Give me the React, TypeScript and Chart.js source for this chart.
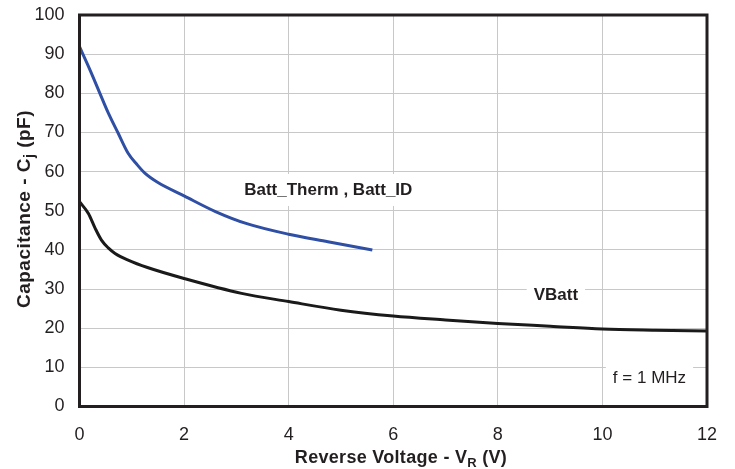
import React, { useEffect, useRef } from "react";
import { Chart, registerables } from "chart.js";

Chart.register(...registerables);

const xTicks = [0, 2, 4, 6, 8, 10, 12];
const yTicks = [0, 10, 20, 30, 40, 50, 60, 70, 80, 90, 100];

const battThermV = [0, 0.2, 0.39, 0.55, 0.74, 0.93, 1.1, 1.25, 1.5, 2.0, 2.6, 3.2, 4.0, 4.75, 5.6];
const battThermC = [91.9, 86, 80, 75, 69.8, 64.7, 61.8, 59.6, 57.2, 53.8, 49.8, 46.7, 44.0, 42.1, 40.0];

const vBattV = [0, 0.17, 0.3, 0.42, 0.55, 0.68, 0.93, 1.3, 2.0, 3.1, 4.0, 5.0, 6.0, 7.0, 8.0, 9.0, 10.0, 11.0, 12.0];
const vBattC = [52.3, 49.3, 45.5, 42.5, 40.5, 39.1, 37.4, 35.5, 32.7, 28.9, 26.8, 24.6, 23.1, 22.1, 21.2, 20.5, 19.8, 19.5, 19.3];

const FONT = "'Liberation Sans', Arial, Helvetica, sans-serif";
const TEXT = "#231f20";

type Part = { t: string; sub?: boolean };

function drawParts(ctx: CanvasRenderingContext2D, parts: Part[], cx: number, cy: number, size: number, spacing: number) {
  const main = `bold ${size}px ${FONT}`;
  const sub = `bold ${Math.round(size * 0.72)}px ${FONT}`;
  (ctx as any).letterSpacing = `${spacing}px`;
  let total = 0;
  for (const p of parts) {
    ctx.font = p.sub ? sub : main;
    total += ctx.measureText(p.t).width;
  }
  let x = cx - total / 2;
  ctx.textBaseline = "middle";
  ctx.textAlign = "left";
  for (const p of parts) {
    ctx.font = p.sub ? sub : main;
    ctx.fillText(p.t, x, p.sub ? cy + size * 0.28 : cy);
    x += ctx.measureText(p.t).width;
  }
  (ctx as any).letterSpacing = "0px";
}

const overlay = {
  id: "overlay",
  beforeDatasetsDraw(chart: any) {
    const ctx = chart.ctx as CanvasRenderingContext2D;
    const xs = chart.scales.x;
    const ys = chart.scales.y;
    ctx.save();
    const labels = [
      { text: "Batt_Therm , Batt_ID", x: 3.15, y: 55.3, bold: true, align: "left" },
      { text: "VBatt", x: 9.11, y: 28.5, bold: true, align: "center" },
      { text: "f = 1 MHz", x: 10.9, y: 7.3, bold: false, align: "center" },
    ];
    for (const l of labels) {
      ctx.font = `${l.bold ? "bold " : ""}17px ${FONT}`;
      const w = ctx.measureText(l.text).width;
      const px = xs.getPixelForValue(l.x);
      const py = ys.getPixelForValue(l.y);
      const left = l.align === "left" ? px : px - w / 2;
      ctx.fillStyle = "#ffffff";
      ctx.fillRect(left - 7, py - 16, w + 14, 32);
      ctx.fillStyle = TEXT;
      ctx.textAlign = "left";
      ctx.textBaseline = "middle";
      ctx.fillText(l.text, left, py);
    }
    ctx.restore();
  },
  afterDatasetsDraw(chart: any) {
    const ctx = chart.ctx as CanvasRenderingContext2D;
    const a = chart.chartArea;
    ctx.save();
    ctx.strokeStyle = TEXT;
    ctx.lineWidth = 3;
    ctx.strokeRect(a.left, a.top, a.right - a.left, a.bottom - a.top);
    ctx.fillStyle = TEXT;
    drawParts(ctx, [{ t: "Reverse Voltage - V" }, { t: "R", sub: true }, { t: " (V)" }], 401, 458, 18, 0.3);
    ctx.translate(25, 209);
    ctx.rotate(-Math.PI / 2);
    drawParts(ctx, [{ t: "Capacitance - C" }, { t: "j", sub: true }, { t: " (pF)" }], 0, 0, 19, 0.5);
    ctx.restore();
  },
};

export default function App() {
  const ref = useRef<HTMLCanvasElement>(null);
  useEffect(() => {
    if (!ref.current) return;
    const chart = new Chart(ref.current, {
      type: "line",
      data: {
        datasets: [
          {
            label: "Batt_Therm , Batt_ID",
            data: battThermV.map((v, i) => ({ x: v, y: battThermC[i] })),
            borderColor: "#2f4fa5",
            borderWidth: 3,
            pointRadius: 0,
            cubicInterpolationMode: "monotone",
            fill: false,
          },
          {
            label: "VBatt",
            data: vBattV.map((v, i) => ({ x: v, y: vBattC[i] })),
            borderColor: "#1a1a1a",
            borderWidth: 3,
            pointRadius: 0,
            cubicInterpolationMode: "monotone",
            fill: false,
          },
        ],
      },
      options: {
        animation: false,
        responsive: true,
        maintainAspectRatio: false,
        layout: { padding: { top: 15, right: 28, left: 0, bottom: 0 } },
        plugins: { legend: { display: false }, tooltip: { enabled: false } },
        scales: {
          x: {
            type: "linear",
            min: 0,
            max: 12,
            afterFit: (s: any) => { s.height = 62.5; s.paddingLeft = 0; s.paddingRight = 0; },
            afterBuildTicks: (s: any) => { s.ticks = xTicks.map((v) => ({ value: v })); },
            grid: { color: "#c8c8c8", lineWidth: 1, drawTicks: false },
            border: { display: false },
            ticks: { color: TEXT, font: { family: FONT, size: 18 }, padding: 18, maxRotation: 0 },
          },
          y: {
            type: "linear",
            min: 0,
            max: 100,
            afterFit: (s: any) => { s.width = 79.5; s.paddingTop = 0; s.paddingBottom = 0; },
            afterBuildTicks: (s: any) => { s.ticks = yTicks.map((v) => ({ value: v })); },
            grid: { color: "#c8c8c8", lineWidth: 1, drawTicks: false },
            border: { display: false },
            ticks: { color: TEXT, font: { family: FONT, size: 18 }, padding: 15 },
          },
        },
      },
      plugins: [overlay],
    });
    return () => chart.destroy();
  }, []);
  return (
    <div style={{ position: "absolute", left: 0, top: 0, width: 735, height: 469, background: "#fff" }}>
      <canvas ref={ref} />
    </div>
  );
}
